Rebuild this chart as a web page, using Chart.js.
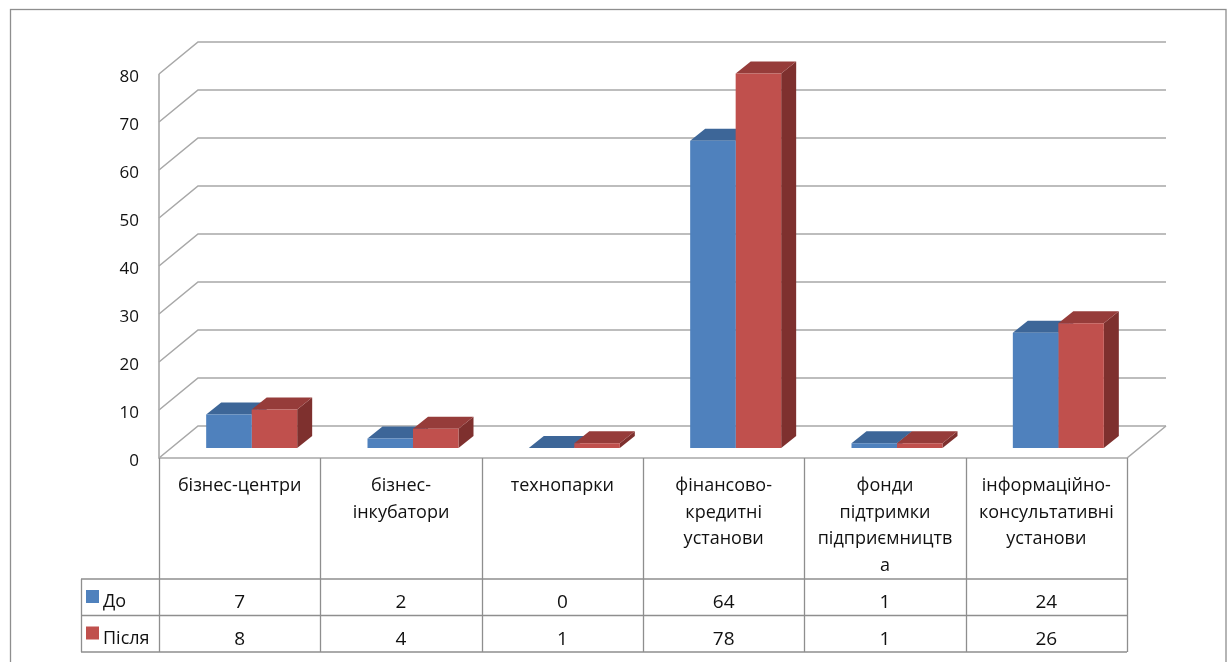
<!DOCTYPE html>
<html lang="uk">
<head>
<meta charset="utf-8">
<title>До / Після</title>
<style>
  html, body { margin: 0; padding: 0; background: #fff; }
  #wrap { width: 1229px; height: 662px; position: relative; }
  canvas { display: block; }
</style>
<script src="https://cdn.jsdelivr.net/npm/chart.js@4.4.1/dist/chart.umd.min.js"></script>
</head>
<body>
<div id="wrap"><canvas id="chart" width="1229" height="662"></canvas></div>
<script>
// Categories (header row of the data table, already split into lines)
const categoryLines = [
  ['бізнес-центри'],
  ['бізнес-', 'інкубатори'],
  ['технопарки'],
  ['фінансово-', 'кредитні', 'установи'],
  ['фонди', 'підтримки', 'підприємництв', 'а'],
  ['інформаційно-', 'консультативні', 'установи']
];
const seriesNames = ['До', 'Після'];
const valuesBefore = [7, 2, 0, 64, 1, 24];
const valuesAfter = [8, 4, 1, 78, 1, 26];
const yTicks = [0, 10, 20, 30, 40, 50, 60, 70, 80];

// Styling
const FONT = '"Open Sans", "Noto Sans", sans-serif';
const frontColors = ['#4F81BD', '#C0504D'];
const topColors = ['#3D6698', '#963C3A'];
const sideColors = ['#385D8A', '#7E302E'];
const GRID = '#a8a8a8';
const TABLE_LINE = '#8e8e8e';

// Pseudo-3D geometry (pixels)
const DEPTH = { dx: 39, dy: -32 };     // depth of floor and side wall
const PLANE = { dx: 12, dy: -10 };     // plane holding the bar fronts
const BAR = { dx: 15, dy: -12 };       // depth of each bar

function poly(ctx, pts, fill) {
  ctx.beginPath();
  ctx.moveTo(pts[0][0], pts[0][1]);
  for (let k = 1; k < pts.length; k++) ctx.lineTo(pts[k][0], pts[k][1]);
  ctx.closePath();
  ctx.fillStyle = fill;
  ctx.fill();
}

function line(ctx, x1, y1, x2, y2) {
  ctx.beginPath();
  ctx.moveTo(x1, y1);
  ctx.lineTo(x2, y2);
  ctx.stroke();
}

const boxPlugin = {
  id: 'box3d',
  beforeDatasetsDraw(chart) {
    const { ctx, chartArea: a } = chart;
    const y = chart.scales.y;
    ctx.save();
    // outer frame
    ctx.strokeStyle = TABLE_LINE;
    ctx.lineWidth = 1.3;
    ctx.strokeRect(10.5, 9.5, 1215.5, 700);

    // side wall diagonals + back wall gridlines
    ctx.strokeStyle = GRID;
    ctx.lineWidth = 1.6;
    yTicks.forEach(v => {
      const py = y.getPixelForValue(v);
      ctx.beginPath();
      ctx.moveTo(a.left, py);
      ctx.lineTo(a.left + DEPTH.dx, py + DEPTH.dy);
      ctx.lineTo(a.right + DEPTH.dx, py + DEPTH.dy);
      ctx.stroke();
    });
    // front vertical axis and floor edges
    const y0 = y.getPixelForValue(0);
    const yTop = y.getPixelForValue(yTicks[yTicks.length - 1]);
    ctx.beginPath();
    ctx.moveTo(a.left, yTop);
    ctx.lineTo(a.left, y0);
    ctx.lineTo(a.right, y0);
    ctx.lineTo(a.right + DEPTH.dx, y0 + DEPTH.dy);
    ctx.stroke();
    ctx.restore();

    // bars live on a plane set back into the box
    ctx.save();
    ctx.translate(PLANE.dx, PLANE.dy);
    const metas = chart.data.datasets.map((_, d) => chart.getDatasetMeta(d));
    for (let i = 0; i < categoryLines.length; i++) {
      metas.forEach((m, d) => {
        const el = m.data[i];
        const w = el.width;
        const l = el.x - w / 2, r = el.x + w / 2;
        const t = Math.min(el.y, el.base), b = Math.max(el.y, el.base);
        poly(ctx, [[r, t], [r + BAR.dx, t + BAR.dy], [r + BAR.dx, b + BAR.dy], [r, b]], sideColors[d]);
        poly(ctx, [[l, t], [l + BAR.dx, t + BAR.dy], [r + BAR.dx, t + BAR.dy], [r, t]], topColors[d]);
      });
    }
    // front faces are drawn by Chart.js inside this translation
  },
  afterDatasetsDraw(chart) {
    chart.ctx.restore();
  },
  afterDraw(chart) {
    const { ctx, chartArea: a } = chart;
    const x = chart.scales.x;
    const y = chart.scales.y;
    const y0 = y.getPixelForValue(0);
    const cw = (a.right - a.left) / categoryLines.length;
    const headBottom = 579, rowH = 36.5;
    const legendLeft = 81;
    const rows = [valuesBefore, valuesAfter];

    ctx.save();
    ctx.strokeStyle = TABLE_LINE;
    ctx.lineWidth = 1.3;
    // header column separators
    for (let k = 0; k <= categoryLines.length; k++) {
      const px = Math.round(a.left + k * cw) + 0.5;
      line(ctx, px, y0, px, headBottom + rowH * 2);
    }
    // value rows
    for (let r = 0; r <= rows.length; r++) {
      const py = headBottom + r * rowH;
      line(ctx, legendLeft, py, a.right, py);
    }
    line(ctx, legendLeft + 0.5, headBottom, legendLeft + 0.5, headBottom + rowH * 2);

    // header text
    ctx.fillStyle = '#111';
    ctx.textAlign = 'center';
    ctx.textBaseline = 'alphabetic';
    ctx.font = '18px ' + FONT;
    categoryLines.forEach((lines, i) => {
      const cx = x.getPixelForValue(i);
      lines.forEach((txt, j) => ctx.fillText(txt, cx, 491 + j * 26.5));
    });

    // values
    ctx.font = '19px ' + FONT;
    rows.forEach((vals, r) => {
      vals.forEach((v, i) => {
        ctx.fillText(String(v), x.getPixelForValue(i), headBottom + r * rowH + 29);
      });
    });

    // legend keys
    ctx.textAlign = 'left';
    ctx.font = '18px ' + FONT;
    seriesNames.forEach((name, r) => {
      const top = headBottom + r * rowH;
      ctx.fillStyle = frontColors[r];
      ctx.fillRect(86, top + 11, 13, 13);
      ctx.fillStyle = '#111';
      ctx.fillText(name, 103, top + 28);
    });
    ctx.restore();
  }
};

function build() {
  new Chart(document.getElementById('chart'), {
    type: 'bar',
    data: {
      labels: categoryLines.map(l => l.join(' ')),
      datasets: [
        { label: seriesNames[0], data: valuesBefore, backgroundColor: frontColors[0] },
        { label: seriesNames[1], data: valuesAfter, backgroundColor: frontColors[1] }
      ]
    },
    options: {
      responsive: false,
      animation: false,
      devicePixelRatio: 1,
      layout: { padding: { left: 0, right: 102, top: 74, bottom: 204 } },
      datasets: { bar: { categoryPercentage: 0.564, barPercentage: 1, borderWidth: 0, clip: false } },
      plugins: { legend: { display: false }, tooltip: { enabled: false } },
      scales: {
        x: { display: false },
        y: {
          min: 0,
          max: 80,
          afterFit(scale) { scale.width = 159; },
          afterBuildTicks(scale) { scale.ticks = yTicks.map(v => ({ value: v })); },
          grid: { display: false, drawTicks: false },
          border: { display: false },
          ticks: { color: '#111', padding: 20, labelOffset: 3, font: { family: FONT, size: 17 } }
        }
      }
    },
    plugins: [boxPlugin]
  });
}

if (document.fonts && document.fonts.load) {
  Promise.all([
    document.fonts.load('18px "Open Sans"'),
    document.fonts.load('17px "Open Sans"')
  ]).then(build, build);
} else {
  build();
}
</script>
</body>
</html>
